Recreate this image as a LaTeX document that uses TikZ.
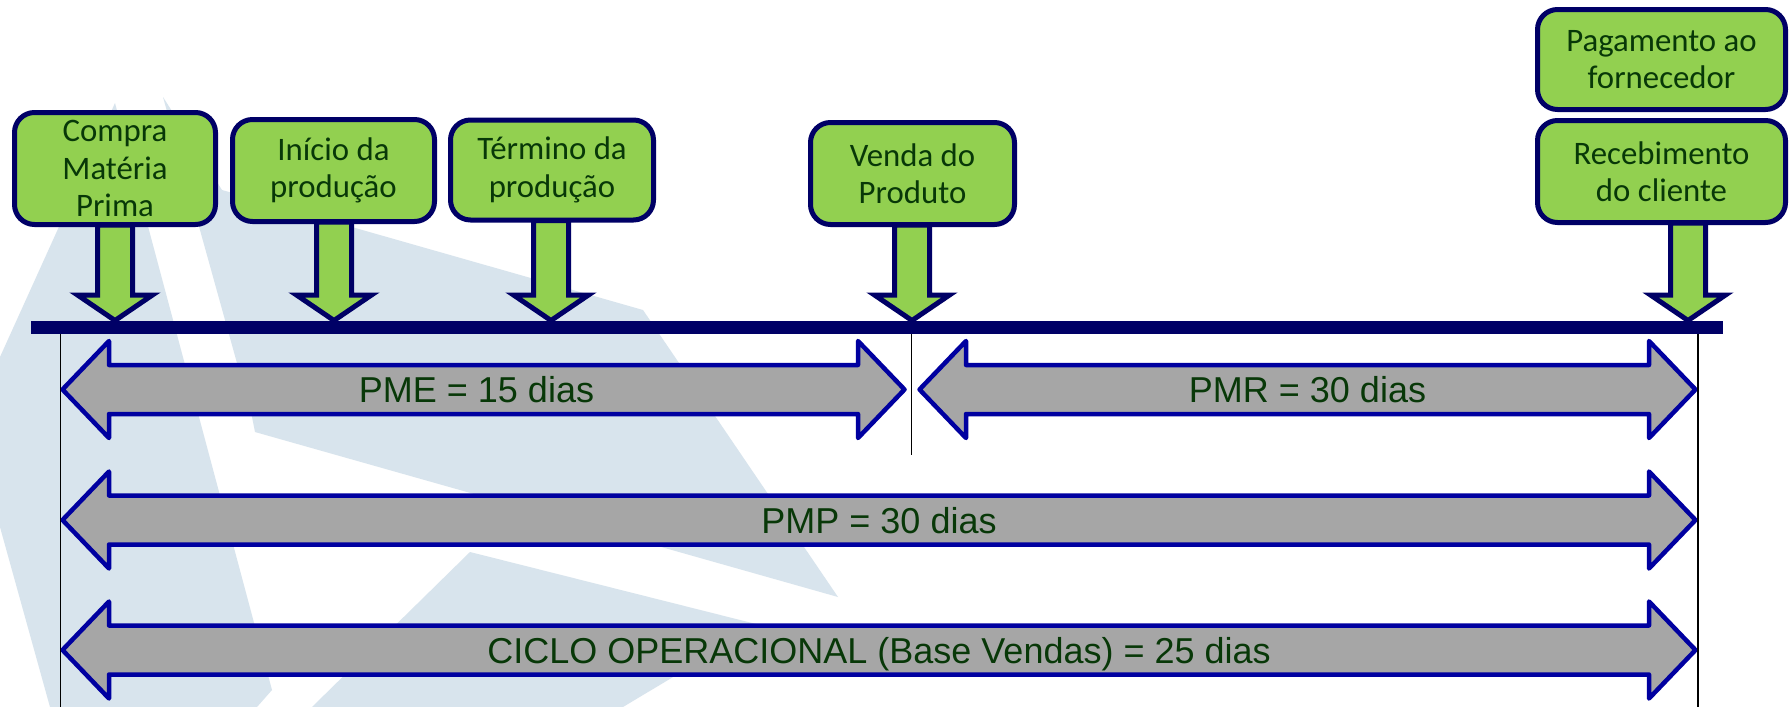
\documentclass[tikz,border=0pt]{standalone}
\usepackage{fontspec}
\newfontfamily\boxfont{Carlito}
\newfontfamily\arrfont{Liberation Sans}
\usetikzlibrary{calc}
\definecolor{wm}{RGB}{216,228,237}
\definecolor{boxgreen}{RGB}{146,208,80}
\definecolor{navy}{RGB}{0,0,102}
\definecolor{arrblue}{RGB}{0,0,160}
\definecolor{grayfill}{RGB}{166,166,166}
\definecolor{txtgreen}{RGB}{8,56,8}
\tikzset{
 evbox/.style={draw=navy, line width=5pt, fill=boxgreen, rounded corners=20pt, align=center, inner sep=0pt, text=txtgreen, font=\boxfont\fontsize{32.8}{37.5}\selectfont},
 garrow/.style={draw=navy, line width=5pt, fill=boxgreen, line join=miter},
 dblarr/.style={draw=arrblue, line width=4.5pt, fill=grayfill, line join=round},
 arrlabel/.style={anchor=base, inner sep=0pt, text=txtgreen, font=\arrfont\fontsize{36}{43}\selectfont},
 timeline/.style={draw=navy, line width=13pt},
 guide/.style={draw=black, line width=1.5pt},
 wmark/.style={fill=wm, draw=none}
}
\newcommand{\greenarrow}[2]{%
 \draw[garrow] let \p1=(#1), \p2=(#2) in
 (\x2-17.5pt,\y1) -- (\x2-17.5pt,\y2+25.5pt) -- (\x2-37.5pt,\y2+25.5pt) -- (\x2,\y2) -- (\x2+37.5pt,\y2+25.5pt) -- (\x2+17.5pt,\y2+25.5pt) -- (\x2+17.5pt,\y1) -- cycle;}
\newcommand{\dblarrow}[2]{%
 \draw[dblarr] let \p1=(#1), \p2=(#2) in
 (\x1,\y1) -- (\x1+46.5pt,\y1+48.5pt) -- (\x1+46.5pt,\y1+24.5pt) -- (\x2-46.5pt,\y1+24.5pt) -- (\x2-46.5pt,\y1+48.5pt) -- (\x2,\y1) -- (\x2-46.5pt,\y1-48.5pt) -- (\x2-46.5pt,\y1-24.5pt) -- (\x1+46.5pt,\y1-24.5pt) -- (\x1+46.5pt,\y1-48.5pt) -- cycle;}
\begin{document}
\begin{tikzpicture}[x=1pt,y=-1pt]
\useasboundingbox (0,0) rectangle (1789,707);
\fill[white] (0,0) rectangle (1789,707);
% watermark
\fill[wmark] (115,103) -- (272,690) -- (257,707) -- (50,707) -- (0,527) -- (0,357) -- cycle;
\fill[wmark] (163,97) -- (222,190) -- (643,310) -- (838,597) -- (255,432) -- (252,417) -- cycle;
\fill[wmark] (312,707) -- (470,552) -- (760,625) -- (623,707) -- cycle;
% coordinates
\coordinate (pmeL) at (62.5,389.5);
\coordinate (pmeR) at (904.5,389.5);
\coordinate (pmrL) at (919.5,389.5);
\coordinate (pmrR) at (1695.5,389.5);
\coordinate (pmpL) at (62.5,520);
\coordinate (pmpR) at (1695.5,520);
\coordinate (cicL) at (62.5,650);
\coordinate (cicR) at (1695.5,650);
\coordinate (vA0) at (60.5,334);
\coordinate (vA1) at (60.5,707);
\coordinate (vB0) at (911.5,334);
\coordinate (vB1) at (911.5,455);
\coordinate (vC0) at (1698,334);
\coordinate (vC1) at (1698,707);
\coordinate (tipA) at (115,320.5);
\coordinate (tipB) at (334,320.5);
\coordinate (tipC) at (551,320.5);
\coordinate (tipD) at (912,320.5);
\coordinate (tipE) at (1688,320.5);
\coordinate (tl0) at (31,327.5);
\coordinate (tl1) at (1723,327.5);
% double arrows
\dblarrow{pmeL}{pmeR}
\dblarrow{pmrL}{pmrR}
\dblarrow{pmpL}{pmpR}
\dblarrow{cicL}{cicR}
\node[arrlabel] (lpme) at ($(pmeL)!0.5!(pmeR)+(-7,13)$) {PME = 15 dias};
\node[arrlabel] (lpmr) at ($(pmrL)!0.5!(pmrR)+(0,13)$) {PMR = 30 dias};
\node[arrlabel] (lpmp) at ($(pmpL)!0.5!(pmpR)+(0,13)$) {PMP = 30 dias};
\node[arrlabel] (lcic) at ($(cicL)!0.5!(cicR)+(0,13)$) {CICLO OPERACIONAL (Base Vendas) = 25 dias};
% guide lines
\draw[guide] (vA0) -- (vA1);
\draw[guide] (vB0) -- (vB1);
\draw[guide] (vC0) -- (vC1);
% boxes
\node[evbox, minimum width=201pt, minimum height=112pt] (compra) at (115,168.5) {Compra\\Matéria\\Prima};
\node[evbox, minimum width=202pt, minimum height=102pt] (inicio) at (333.5,170.5) {Início da\\produção};
\node[evbox, minimum width=203pt, minimum height=100pt] (termino) at (552,170) {Término da\\produção};
\node[evbox, minimum width=204pt, minimum height=102pt] (venda) at (912.5,173.5) {Venda do\\Produto};
\node[evbox, minimum width=248pt, minimum height=100pt] (pag) at (1661.5,59.5) {Pagamento ao\\fornecedor};
\node[evbox, minimum width=248pt, minimum height=102pt] (rec) at (1661.5,171.5) {Recebimento\\do cliente};
% green arrows
\greenarrow{[yshift=2pt]compra.south}{tipA}
\greenarrow{[yshift=2pt]inicio.south}{tipB}
\greenarrow{[yshift=2pt]termino.south}{tipC}
\greenarrow{[yshift=2pt]venda.south}{tipD}
\greenarrow{[yshift=2pt]rec.south}{tipE}
% timeline
\draw[timeline] (tl0) -- (tl1);
\end{tikzpicture}
\end{document}
